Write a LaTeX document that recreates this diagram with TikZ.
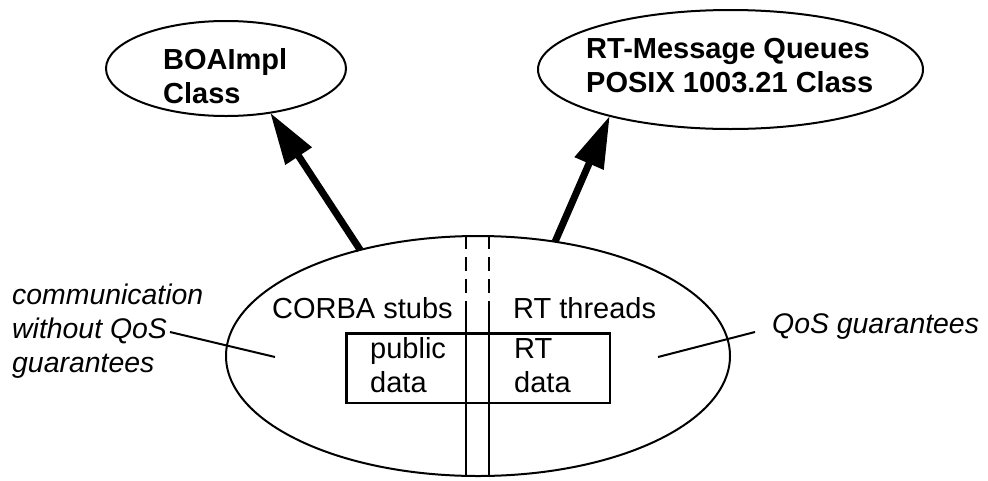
\documentclass[tikz,border=0pt]{standalone}
\usepackage{fontspec}
\setmainfont{Liberation Sans}
\usetikzlibrary{shapes.geometric,arrows.meta}
\begin{document}
\begin{tikzpicture}[x=1pt,y=-1pt,
  oval/.style={draw,ellipse,line width=2pt,inner sep=0pt,outer sep=0pt},
  lbl/.style={inner sep=0pt,anchor=base west,align=left,font=\fontsize{29}{34}\selectfont},
  blbl/.style={lbl,font=\fontsize{29}{34}\selectfont\bfseries},
  ilbl/.style={lbl,font=\fontsize{28.4}{34}\selectfont\itshape},
  bigarrow/.style={line width=7pt,-{Triangle[length=52pt,width=30pt]}},
  thinline/.style={line width=2pt},
  divider/.style={line width=2.5pt},
  dashdivider/.style={line width=2.5pt,dash pattern=on 14pt off 8pt}]
\useasboundingbox (0,0) rectangle (988,480);
% ellipses
\node[oval,minimum width=240pt,minimum height=95pt] (boa) at (226,68.5) {};
\node[oval,minimum width=385pt,minimum height=119pt] (rtq) at (730.5,69.5) {};
\node[oval,minimum width=504pt,minimum height=240pt] (main) at (478,356) {};
% box
\node[draw,line width=2.5pt,inner sep=0pt,outer sep=0pt,minimum width=263.5pt,minimum height=69.5pt] (box) at (478,368) {};
% texts (base anchor = baseline of the last line)
\node[blbl] (boatext) at (163,103) {BOAImpl\\Class};
\node[blbl] (rtqtext) at (586,92) {RT-Message Queues\\POSIX 1003.21 Class};
\node[lbl] (corba) at (272,318) {CORBA stubs};
\node[lbl] (rtthreads) at (513,318) {RT threads};
\node[lbl] (public) at (370,392) {public\\data};
\node[lbl] (rtdata) at (514,392) {RT\\data};
\node[ilbl] (comm) at (12,372) {communication\\without QoS\\guarantees};
\node[ilbl] (qos) at (772,333) {QoS guarantees};
% dividers
\coordinate (l1t) at (466,235);
\coordinate (l1m) at (466,302);
\coordinate (l1b) at (466,477);
\coordinate (l2t) at (489,235);
\coordinate (l2m) at (489,302);
\coordinate (l2b) at (489,477);
\draw[dashdivider] (l1t) -- (l1m);
\draw[dashdivider] (l2t) -- (l2m);
\draw[divider] (l1m) -- (l1b);
\draw[divider] (l2m) -- (l2b);
% arrows
\draw[bigarrow] (main.138.5) -- (boa.-45);
\draw[bigarrow] (main.56) -- (rtq.201.6);
% callouts
\coordinate (cl1) at (170,332);
\coordinate (cl2) at (275,357);
\coordinate (cr1) at (658,357);
\coordinate (cr2) at (755,332);
\draw[thinline] (cl1) -- (cl2);
\draw[thinline] (cr1) -- (cr2);
\end{tikzpicture}
\end{document}
